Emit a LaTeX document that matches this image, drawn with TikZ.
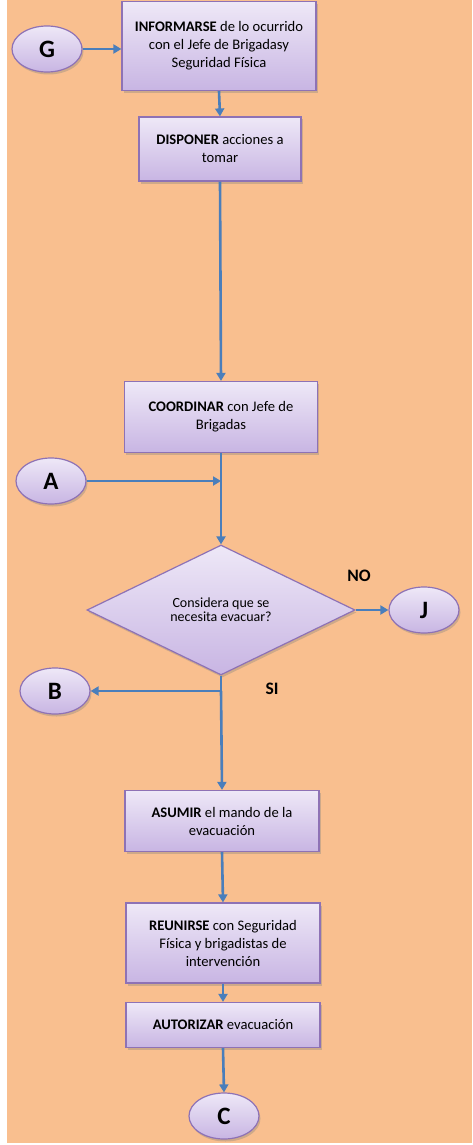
\documentclass[tikz,border=0pt]{standalone}
\usepackage{fontspec}
\setmainfont{Carlito}
\usepackage{xcolor}
\definecolor{bgOrange}{HTML}{F9BF8F}
\definecolor{boxTop}{HTML}{EEE8F7}
\definecolor{boxBottom}{HTML}{C8B5E3}
\definecolor{boxLine}{HTML}{8E72B5}
\definecolor{flowBlue}{HTML}{4A7EBB}
\usepackage{tikz}
\usetikzlibrary{shapes.geometric, arrows.meta, positioning, calc, shadows}

\tikzset{
  stepbox/.style={rectangle, draw=boxLine, line width=1.2pt, top color=boxTop, bottom color=boxBottom,
    drop shadow={opacity=0.35, shadow xshift=1.5pt, shadow yshift=-2.5pt},
    align=center, inner sep=2pt, font=\fontsize{14.6}{18}\selectfont},
  linkoval/.style={ellipse, draw=boxLine, line width=1.2pt, top color=boxTop, bottom color=boxBottom,
    drop shadow={opacity=0.35, shadow xshift=1.5pt, shadow yshift=-2.5pt},
    minimum width=70pt, minimum height=46pt, inner sep=0pt, font=\fontsize{25}{25}\selectfont\bfseries},
  decision/.style={diamond, draw=boxLine, line width=1.2pt, top color=boxTop, bottom color=boxBottom,
    drop shadow={opacity=0.35, shadow xshift=1.5pt, shadow yshift=-2.5pt},
    minimum width=268pt, minimum height=130pt, inner sep=0pt, align=center,
    font=\fontsize{14}{14.3}\selectfont},
  flow/.style={draw=flowBlue, line width=2.6pt, -{Triangle[length=8pt,width=9pt]}},
  flowline/.style={draw=flowBlue, line width=2.6pt},
  branch/.style={font=\fontsize{17.5}{17.5}\selectfont\bfseries}
}

\begin{document}
\begin{tikzpicture}[x=1pt, y=-1pt]
    \useasboundingbox (0,0) rectangle (472,1145);
    % Background
    \fill[bgOrange] (7,0) rectangle (472,1143);

    % Steps
    \node[stepbox, minimum width=194pt, minimum height=89pt] (informar) at (219,46)
        {\textbf{INFORMARSE} de lo ocurrido\\con el Jefe de Brigadasy\\Seguridad Física};
    \node[stepbox, minimum width=162pt, minimum height=64pt] (disponer) at (220,149)
        {\textbf{DISPONER} acciones a\\tomar};
    \node[stepbox, minimum width=193pt, minimum height=71pt] (coordinar) at (221,417)
        {\textbf{COORDINAR} con Jefe de\\Brigadas};
    \node[decision] (evacuar) at (221,610) {Considera que se\\necesita evacuar?};
    \node[stepbox, minimum width=194pt, minimum height=61pt] (asumir) at (222,821)
        {\textbf{ASUMIR} el mando de la\\evacuación};
    \node[stepbox, minimum width=194pt, minimum height=80pt] (reunirse) at (223,943)
        {\textbf{REUNIRSE} con Seguridad\\Física y brigadistas de\\intervención};
    \node[stepbox, minimum width=194pt, minimum height=45pt] (autorizar) at (223,1025)
        {\textbf{AUTORIZAR} evacuación};

    % Connectors
    \node[linkoval] (G) at (47,49) {G};
    \node[linkoval] (A) at (51,481) {A};
    \node[linkoval] (J) at (424,610) {J};
    \node[linkoval] (B) at (55,691) {B};
    \node[linkoval] (C) at (224,1116) {C};

    % Join and split points
    \coordinate (join) at (coordinar.south |- A.east);
    \coordinate (split) at (evacuar.south |- B.east);

    % Arrows
    \draw[flow] (G.east) -- (G.east -| informar.west);
    \draw[flow] (informar.south) -- (disponer.north);
    \draw[flow] (disponer.south) -- (coordinar.north);
    \draw[flow] (coordinar.south) -- (evacuar.north);
    \draw[flow] (A.east) -- (join);
    \draw[flow] (evacuar.east) -- (J.west);
    \draw[flowline] (evacuar.south) -- (split);
    \draw[flow] (split) -- (B.east);
    \draw[flow] (split) -- (asumir.north);
    \draw[flow] (asumir.south) -- (reunirse.north);
    \draw[flow] (reunirse.south) -- (autorizar.north);
    \draw[flow] (autorizar.south) -- (C.north);

    % Branch labels
    \node[branch] (no) at (359,576) {NO};
    \node[branch] (si) at (272,689) {SI};
\end{tikzpicture}
\end{document}
